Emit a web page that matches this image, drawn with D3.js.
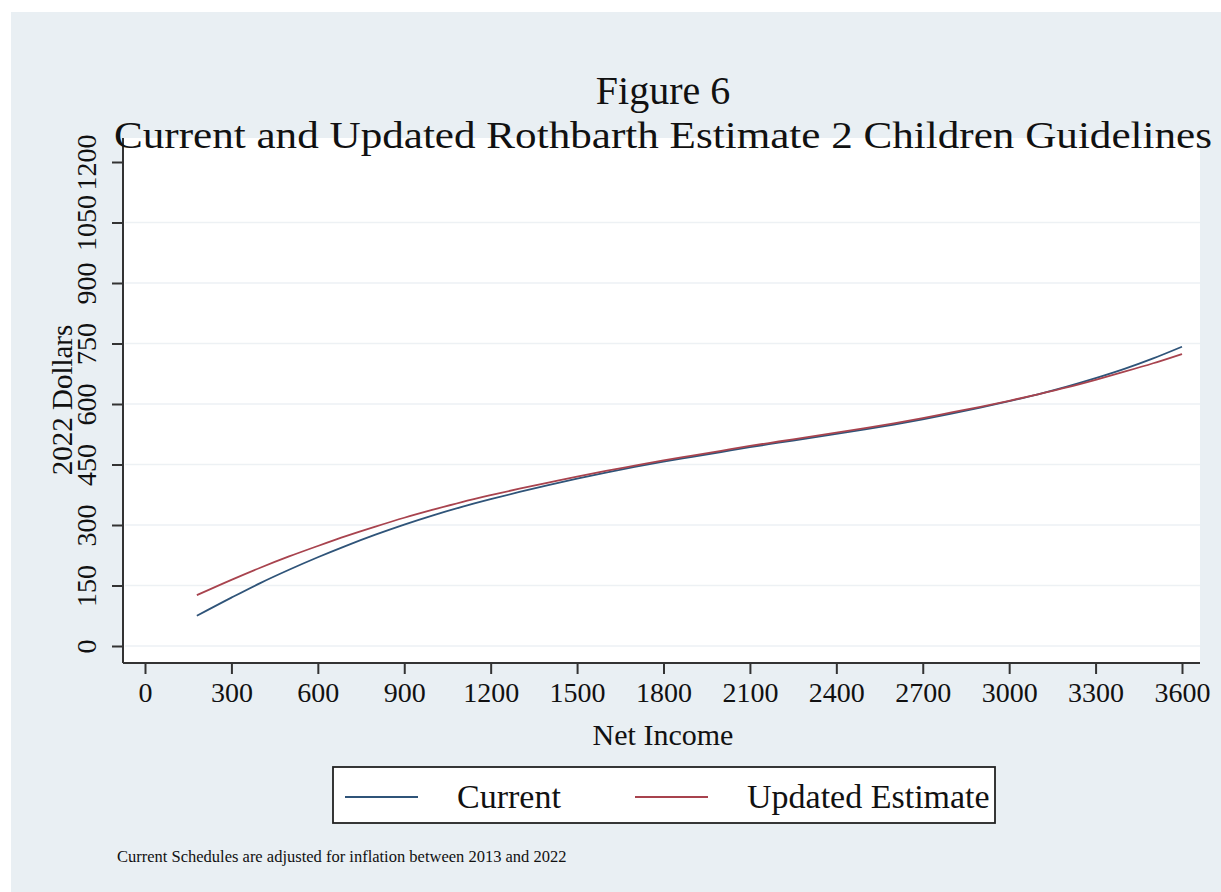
<!DOCTYPE html>
<html>
<head>
<meta charset="utf-8">
<script src="https://cdn.jsdelivr.net/npm/d3@7"></script>
<style>
body { margin: 0; background: #fff; }
text { font-family: "Liberation Serif", "Times New Roman", serif; fill: #111; }
</style>
</head>
<body>
<script>
// data
var income = [180, 300, 400, 500, 600, 700, 800, 900, 1000, 1100, 1200, 1300, 1400, 1500,
    1600, 1700, 1800, 1900, 2000, 2100, 2200, 2300, 2400, 2500, 2600, 2700, 2800,
    2900, 3000, 3100, 3200, 3300, 3400, 3500, 3600];
var current = [75, 120, 156, 189, 220, 249, 276, 301, 324, 345, 364, 382, 399, 415,
    430, 444, 457, 469, 481, 493, 504, 515, 526, 537, 549, 562, 576,
    591, 607, 624, 643, 664, 687, 713, 742];
var updated = [126, 164, 194, 222, 248, 273, 296, 318, 338, 357, 374, 390, 405, 420,
    434, 447, 460, 472, 484, 496, 507, 518, 529, 540, 552, 565, 579,
    593, 608, 624, 641, 660, 680, 701, 724];
var xTicks = [0, 300, 600, 900, 1200, 1500, 1800, 2100, 2400, 2700, 3000, 3300, 3600];
var yTicks = [0, 150, 300, 450, 600, 750, 900, 1050, 1200];
var seriesNames = ["Current", "Updated Estimate"];
var seriesColors = ["#2f5479", "#a8434e"];

var width = 1221;
var height = 892;

var svg = d3.select("body")
    .append("svg")
    .attr("width", width)
    .attr("height", height);

// graph region
svg.append("rect")
    .attr("x", 11).attr("y", 12)
    .attr("width", width - 11).attr("height", height - 12)
    .attr("fill", "#e9eff3");

var plot = { left: 123, right: 1200, top: 138, bottom: 663 };

svg.append("rect")
    .attr("x", plot.left).attr("y", plot.top)
    .attr("width", plot.right - plot.left).attr("height", plot.bottom - plot.top)
    .attr("fill", "#fff");

var x = d3.scaleLinear().domain([0, 3600]).range([145, 1182]);
var y = d3.scaleLinear().domain([0, 1200]).range([646, 162]);

// grid
svg.append("g")
    .selectAll("line")
    .data(yTicks.slice(0, -1))
    .enter().append("line")
    .attr("x1", plot.left + 2).attr("x2", plot.right)
    .attr("y1", function(d) { return y(d); })
    .attr("y2", function(d) { return y(d); })
    .attr("stroke", "#edf1f4")
    .attr("stroke-width", 1.6);

// x axis
var xAxis = svg.append("g")
    .attr("transform", "translate(0," + plot.bottom + ")")
    .call(d3.axisBottom(x).tickValues(xTicks).tickFormat(d3.format("d"))
        .tickSize(11).tickPadding(8).tickSizeOuter(0));
xAxis.select(".domain").attr("d", "M" + plot.left + ",0H" + plot.right);
xAxis.selectAll("line, path").attr("stroke", "#333").attr("stroke-width", 2);
xAxis.selectAll("text")
    .style("font-family", "Liberation Serif")
    .attr("font-size", 28)
    .attr("fill", "#111");

// y axis
var yAxis = svg.append("g")
    .attr("transform", "translate(" + plot.left + ",0)")
    .call(d3.axisLeft(y).tickValues(yTicks).tickFormat(d3.format("d"))
        .tickSize(11).tickSizeOuter(0));
yAxis.select(".domain").attr("d", "M0," + plot.top + "V" + plot.bottom);
yAxis.selectAll("line, path").attr("stroke", "#333").attr("stroke-width", 2);
yAxis.selectAll("text")
    .style("font-family", "Liberation Serif")
    .attr("font-size", 28)
    .attr("fill", "#111")
    .attr("x", null).attr("dy", null)
    .attr("text-anchor", "middle")
    .attr("transform", "translate(-27,0) rotate(-90)");

// series
var line = d3.line()
    .x(function(d) { return x(d[0]); })
    .y(function(d) { return y(d[1]); })
    .curve(d3.curveMonotoneX);

[current, updated].forEach(function(vals, i) {
    svg.append("path")
        .datum(income.map(function(v, j) { return [v, vals[j]]; }))
        .attr("fill", "none")
        .attr("stroke", seriesColors[i])
        .attr("stroke-width", 1.8)
        .attr("d", line);
});

// titles
svg.append("text")
    .attr("x", 663).attr("y", 104)
    .attr("text-anchor", "middle")
    .attr("font-size", 40)
    .attr("fill", "#1f3044")
    .text("Figure 6");

svg.append("text")
    .attr("x", 663).attr("y", 148)
    .attr("text-anchor", "middle")
    .attr("font-size", 38)
    .attr("textLength", 1098)
    .attr("lengthAdjust", "spacingAndGlyphs")
    .attr("fill", "#1f3044")
    .text("Current and Updated Rothbarth Estimate 2 Children Guidelines");

svg.append("text")
    .attr("x", 663).attr("y", 745)
    .attr("text-anchor", "middle")
    .attr("font-size", 30)
    .text("Net Income");

svg.append("text")
    .attr("transform", "translate(72,400) rotate(-90)")
    .attr("text-anchor", "middle")
    .attr("font-size", 29)
    .text("2022 Dollars");

// legend
var legend = svg.append("g");
legend.append("rect")
    .attr("x", 333).attr("y", 767)
    .attr("width", 662).attr("height", 56)
    .attr("fill", "#fff")
    .attr("stroke", "#222")
    .attr("stroke-width", 1.8);

var legendX = [345, 635];
seriesNames.forEach(function(name, i) {
    legend.append("line")
        .attr("x1", legendX[i]).attr("x2", legendX[i] + 73)
        .attr("y1", 797).attr("y2", 797)
        .attr("stroke", seriesColors[i])
        .attr("stroke-width", 1.8);
    legend.append("text")
        .attr("x", legendX[i] + 112).attr("y", 808)
        .attr("font-size", 34)
        .text(name);
});

svg.append("text")
    .attr("x", 117).attr("y", 862)
    .attr("font-size", 16.5)
    .text("Current Schedules are adjusted for inflation between 2013 and 2022");
</script>
</body>
</html>
